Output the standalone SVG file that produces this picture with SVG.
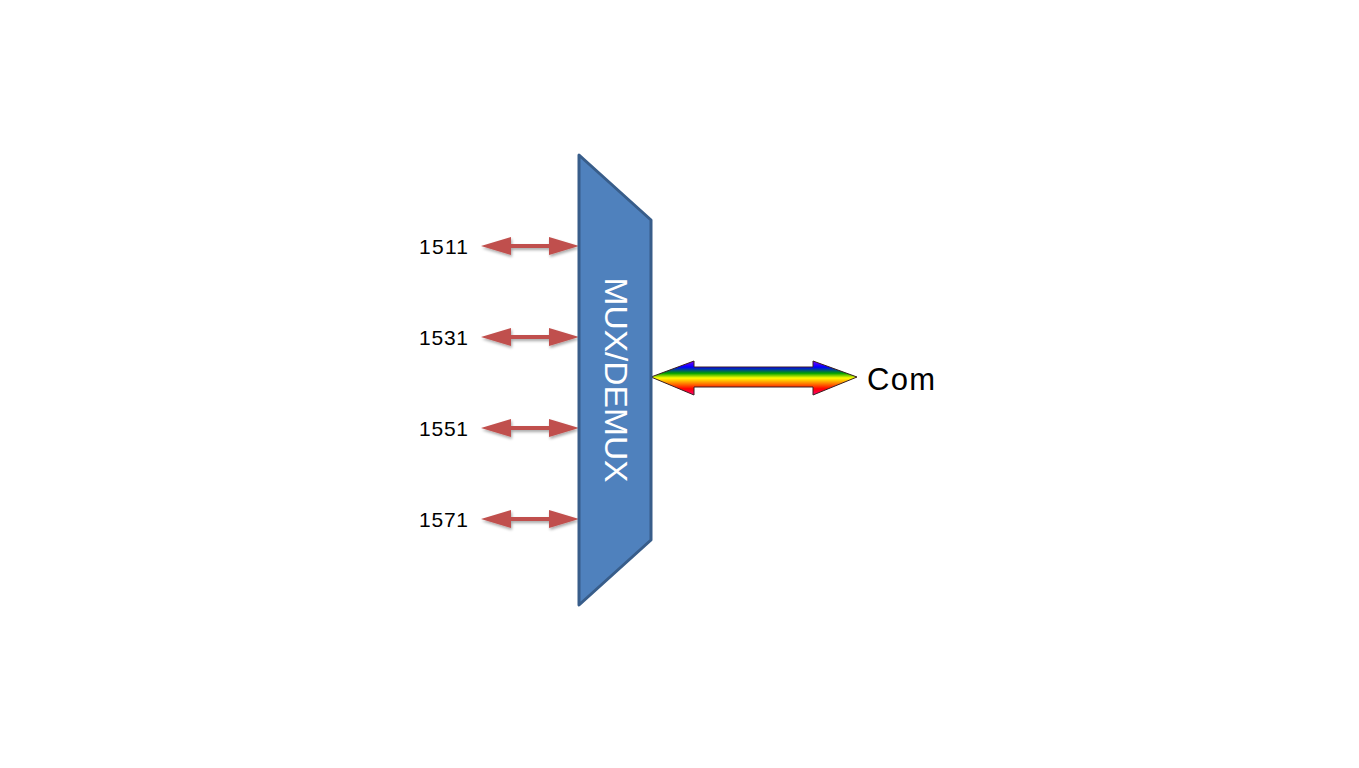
<svg xmlns="http://www.w3.org/2000/svg" width="1359" height="768" viewBox="0 0 1359 768">
<style>
.lbl{font-family:"Liberation Sans","Open Sans",sans-serif;font-size:21px;fill:#000}
.red{fill:#c0504d}
</style>
<defs>
<linearGradient id="rb" x1="0" y1="361" x2="0" y2="395" gradientUnits="userSpaceOnUse">
<stop offset="0" stop-color="#8000ff"/>
<stop offset="0.18" stop-color="#0000ff"/>
<stop offset="0.36" stop-color="#00a000"/>
<stop offset="0.5" stop-color="#ffff00"/>
<stop offset="0.66" stop-color="#ff8000"/>
<stop offset="0.82" stop-color="#ff0000"/>
<stop offset="1" stop-color="#ff0080"/>
</linearGradient>
<filter id="sh" x="-20%" y="-50%" width="140%" height="200%">
<feGaussianBlur in="SourceAlpha" stdDeviation="1.5"/>
<feOffset dx="1" dy="2" result="b"/>
<feComponentTransfer><feFuncA type="linear" slope="0.35"/></feComponentTransfer>
<feMerge><feMergeNode/><feMergeNode in="SourceGraphic"/></feMerge>
</filter>
<path id="ra" d="M0,0 L30,-9 L30,-2 L68,-2 L68,-9 L98,0 L68,9 L68,2 L30,2 L30,9 Z"/>
</defs>
<g id="connectors">
<use href="#ra" class="red" x="481" y="246" filter="url(#sh)"/>
<use href="#ra" class="red" x="481" y="337" filter="url(#sh)"/>
<use href="#ra" class="red" x="481" y="428" filter="url(#sh)"/>
<use href="#ra" class="red" x="481" y="519" filter="url(#sh)"/>
<path id="com-arrow" d="M651,377 L694,361 L694,367 L813,367 L813,361 L857,377 L813,395 L813,387 L694,387 L694,395 Z" fill="url(#rb)" stroke="#3a2020" stroke-width="1"/>
</g>
<g id="mux">
<path d="M579,155 L651,220 L651,540 L579,605 Z" fill="#4f81bd" stroke="#385d8a" stroke-width="3" stroke-linejoin="round"/>
<text transform="translate(605,380) rotate(90)" x="0" y="0" text-anchor="middle" textLength="205" lengthAdjust="spacingAndGlyphs" font-family="Liberation Sans, Open Sans, sans-serif" font-size="31" fill="#fff">MUX/DEMUX</text>
</g>
<g id="labels">
<text class="lbl" x="419" y="254" textLength="49">1511</text>
<text class="lbl" x="419" y="345" textLength="49">1531</text>
<text class="lbl" x="419" y="436" textLength="49">1551</text>
<text class="lbl" x="419" y="527" textLength="49">1571</text>
<text x="867" y="390" textLength="68" font-family="Liberation Sans, Open Sans, sans-serif" font-size="31" fill="#000">Com</text>
</g>
</svg>
